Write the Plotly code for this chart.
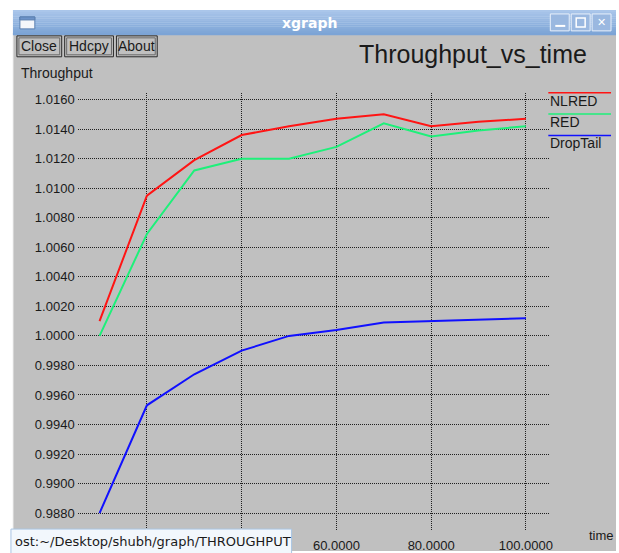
import plotly.graph_objects as go

# ---------------- data ----------------
time = [10, 20, 30, 40, 50, 60, 70, 80, 90, 100]
nlred = [1.0010, 1.0095, 1.0119, 1.0136, 1.0142, 1.0147, 1.0150, 1.0142, 1.0145, 1.0147]
red = [1.0000, 1.0069, 1.0112, 1.0120, 1.0120, 1.0128, 1.0144, 1.0135, 1.0139, 1.0142]
droptail = [0.9880, 0.9953, 0.9974, 0.9990, 1.0000, 1.0004, 1.0009, 1.0010, 1.0011, 1.0012]
series_names = ["NLRED", "RED", "DropTail"]
series_colors = ["#ff1414", "#1ef07a", "#1010ff"]
x_tickvals = [20, 40, 60, 80, 100]
x_hidden_ticks = [20, 40]   # covered by the status tooltip in the original
title_text = "Throughput_vs_time"
ylabel_text = "Throughput"
xlabel_text = "time"
buttons = ["Close", "Hdcpy", "About"]
status_text = "ost:~/Desktop/shubh/graph/THROUGHPUT"

W, H = 619, 553
FONT = "Liberation Sans, Arial, sans-serif"


def fx(x):
    return x / W


def fy(y):
    return 1 - y / H


fig = go.Figure()
for name, vals, col in zip(series_names, [nlred, red, droptail], series_colors):
    fig.add_trace(go.Scatter(x=time, y=vals, mode="lines", name=name,
                             line=dict(color=col, width=2), showlegend=False))

shapes = []
annotations = []


def rect(x0, y0, x1, y1, fill, line_color=None, lw=0, layer="above"):
    shapes.append(dict(type="rect", xref="paper", yref="paper",
                       x0=fx(x0), x1=fx(x1), y0=fy(y1), y1=fy(y0),
                       fillcolor=fill,
                       line=dict(color=line_color or fill, width=lw),
                       layer=layer))


def hline(x0, x1, y, color, lw=1.5):
    shapes.append(dict(type="line", xref="paper", yref="paper",
                       x0=fx(x0), x1=fx(x1), y0=fy(y), y1=fy(y),
                       line=dict(color=color, width=lw), layer="above"))


def text(x, y, s, size, color="#1a1a1a", xanchor="left", family=FONT, bold=False):
    annotations.append(dict(xref="paper", yref="paper", x=fx(x), y=fy(y),
                            text=("<b>%s</b>" % s) if bold else s,
                            showarrow=False, xanchor=xanchor, yanchor="middle",
                            font=dict(size=size, color=color, family=family)))


# window background
rect(13, 33, 619, 553, "#c0c0c0", layer="below")
shapes.append(dict(type="line", xref="paper", yref="paper", x0=fx(13.5), x1=fx(13.5),
                   y0=fy(553), y1=fy(33), line=dict(color="#d8d8d8", width=1), layer="below"))

# title bar gradient
top, bot = 10, 35
n = 12
c0 = (170, 198, 234)
c1 = (124, 164, 214)
for i in range(n):
    t = i / (n - 1)
    c = tuple(int(c0[k] + (c1[k] - c0[k]) * t) for k in range(3))
    y0 = top + (bot - top) * i / n
    y1 = top + (bot - top) * (i + 1) / n + 0.3
    rect(13, y0, 619, y1, "rgb(%d,%d,%d)" % c)
text(311, 23, "xgraph", 14, color="white", xanchor="center", family="DejaVu Sans, sans-serif", bold=True)
# window icon
rect(20, 17, 35, 29, "#f4f6fa", "#5a7fb0", 1)
rect(20, 17, 35, 20, "#6d93c8", "#5a7fb0", 1)
# window buttons
for bx in [553, 574, 595]:
    shapes.append(dict(type="rect", xref="paper", yref="paper",
                       x0=fx(bx), x1=fx(bx + 19), y0=fy(31), y1=fy(14),
                       fillcolor="#9ab8e0", line=dict(color="#e8f0fa", width=1), layer="above"))
hline(558, 568, 26, "white", 2)
rect(579, 18, 588, 27, "rgba(0,0,0,0)", "white", 1.5)
text(604.5, 22.5, "✕", 11, color="white", xanchor="center", family="DejaVu Sans, sans-serif")

# xgraph buttons
bx0 = [17, 65, 117]
bx1 = [62, 114, 158]
for lbl, a, b in zip(buttons, bx0, bx1):
    rect(a, 36, b, 57, "rgba(0,0,0,0)", "#2a2a2a", 1)
    rect(a + 2, 38, b - 2, 55, "rgba(0,0,0,0)", "#6a6a6a", 1)
    text((a + b) / 2, 46.5, lbl, 14, xanchor="center")

# titles
text(475, 54, title_text, 25, xanchor="center")
text(19, 73, ylabel_text, 14)
text(590, 537, xlabel_text, 13)

# legend (xgraph style: coloured line above each label)
leg_line_y = [93, 114.5, 136]
for name, col, ly in zip(series_names, series_colors, leg_line_y):
    hline(551, 614, ly, col, 1.5)
    text(551, ly + 8, name, 14)

# status tooltip at bottom-left
shapes.append(dict(type="rect", xref="paper", yref="paper",
                   x0=fx(11), x1=fx(293), y0=fy(556), y1=fy(531),
                   fillcolor="#f2f7fc", line=dict(color="#a9c5e3", width=1), layer="above"))
text(13, 543, status_text, 13, family="DejaVu Sans, sans-serif")

grid = dict(showgrid=True, gridcolor="#202020", gridwidth=1, griddash="1px,1px",
            zeroline=False, showline=False, ticks="",
            tickfont=dict(size=13, color="#1a1a1a", family=FONT))

x_ticktext = ["" if v in x_hidden_ticks else "%.4f" % v for v in x_tickvals]

fig.update_layout(
    width=W, height=H,
    margin=dict(l=0, r=0, t=0, b=0),
    paper_bgcolor="white",
    plot_bgcolor="rgba(0,0,0,0)",
    showlegend=False,
    shapes=shapes,
    annotations=annotations,
    xaxis=dict(domain=[fx(78), fx(553)], range=[5.37, 105.16],
               tickvals=x_tickvals, ticktext=x_ticktext, ticklabelstandoff=6, **grid),
    yaxis=dict(domain=[fy(532), fy(93)], range=[0.98685, 1.01647],
               tick0=0.988, dtick=0.002, tickformat=".4f", ticklabelstandoff=2, **grid),
)

fig.write_html("out.html", config={"displayModeBar": False},
               post_script="document.body.style.margin='0';document.body.style.overflow='hidden';")
